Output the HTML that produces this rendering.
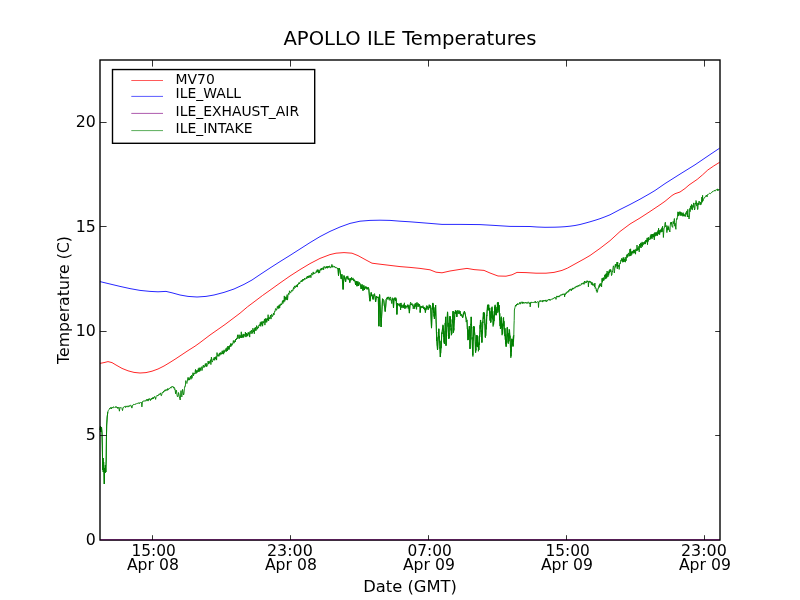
<!DOCTYPE html>
<html><head><meta charset="utf-8"><title>APOLLO ILE Temperatures</title>
<style>
html,body{margin:0;padding:0;background:#fff;}
body{width:800px;height:600px;overflow:hidden;}
svg{display:block;}
text{font-family:"DejaVu Sans","Liberation Sans",sans-serif;fill:#000;}
.t{font-size:16.67px;}
.l{font-size:13.9px;}
</style></head><body>
<svg width="800" height="600" viewBox="0 0 800 600">
<rect x="0" y="0" width="800" height="600" fill="#fff"/>
<g fill="none" stroke-width="0.85" stroke-linejoin="round">
<path d="M100,540 L720,540" stroke="#800080"/>
<path d="M100.0,363.4 L104.0,362.6 L108.0,361.6 L112.0,362.6 L116.0,365.0 L122.0,368.4 L128.0,370.8 L134.0,372.4 L140.0,373.0 L146.0,372.6 L152.0,371.2 L158.0,369.0 L164.0,366.0 L170.0,362.4 L176.0,358.6 L182.0,354.6 L188.0,350.6 L195.0,346.2 L200.0,342.6 L210.0,335.0 L225.0,324.5 L240.0,313.2 L247.5,306.8 L255.0,301.2 L262.5,295.5 L270.0,290.2 L280.0,283.0 L290.0,276.0 L300.0,269.6 L310.0,263.6 L320.0,258.4 L330.0,254.6 L336.0,253.2 L344.0,252.6 L352.0,253.2 L358.0,255.6 L366.0,260.0 L372.0,263.2 L380.0,264.2 L390.0,265.4 L400.0,266.6 L410.0,267.4 L420.0,268.4 L430.0,269.8 L436.0,272.2 L442.0,272.8 L450.0,271.0 L460.0,269.4 L467.0,268.4 L474.0,269.6 L484.0,270.4 L490.0,273.0 L498.0,276.0 L506.0,276.2 L512.0,274.8 L517.0,272.4 L526.0,272.6 L536.0,273.2 L546.0,273.2 L554.0,272.4 L562.0,270.4 L567.5,268.1 L580.0,261.2 L584.0,259.0 L590.0,255.5 L600.0,248.4 L610.0,240.7 L620.0,231.5 L630.0,224.0 L635.0,221.0 L640.0,218.0 L650.0,211.5 L660.0,204.8 L665.0,201.3 L672.0,195.5 L675.0,193.7 L680.0,192.0 L685.0,188.5 L689.0,185.0 L697.2,179.4 L702.5,174.9 L707.8,170.0 L713.8,165.9 L719.6,162.3" stroke="#ff0000"/>
<path d="M100.0,281.6 L110.0,284.0 L120.0,286.4 L130.0,288.6 L140.0,290.4 L150.0,291.4 L158.0,291.8 L166.0,291.4 L172.0,292.8 L180.0,295.0 L188.0,296.4 L197.0,297.0 L206.0,296.4 L214.0,295.0 L224.0,292.4 L234.0,289.0 L244.0,284.4 L252.0,280.0 L260.0,274.6 L270.0,268.0 L280.0,261.6 L290.0,255.4 L300.0,249.0 L310.0,242.6 L320.0,236.6 L330.0,231.4 L340.0,227.0 L350.0,223.4 L360.0,221.2 L370.0,220.4 L380.0,220.2 L390.0,220.4 L400.0,221.2 L410.0,221.8 L420.0,222.6 L430.0,223.4 L442.0,224.4 L460.0,224.4 L480.0,224.6 L494.0,225.4 L510.0,226.4 L530.0,226.5 L537.0,227.0 L545.0,227.3 L555.0,227.2 L560.0,227.0 L565.0,226.7 L570.0,226.2 L575.0,225.5 L580.0,224.5 L585.0,223.2 L590.0,221.8 L595.0,220.3 L600.0,218.7 L605.0,216.8 L610.0,214.8 L620.0,209.5 L630.0,204.5 L640.0,199.2 L650.0,193.5 L655.0,190.5 L665.0,183.6 L680.0,174.1 L695.0,164.8 L710.0,154.6 L719.6,148.2" stroke="#0000ff"/>
<path d="M100.0,430.0 L100.5,426.0 L101.0,432.0 L101.5,427.0 L102.0,433.0 L102.3,445.0 L102.5,457.0 L102.8,470.0 L103.0,458.0 L103.3,472.0 L103.6,462.0 L104.0,474.0 L104.3,484.0 L104.6,468.0 L105.0,473.0 L105.4,465.0 L105.8,472.0 L106.2,460.0 L106.4,440.0 L106.7,425.0 L107.2,417.0 L107.8,412.0" stroke="#008000" stroke-width="0.9"/>
<path d="M336.9,268.1 L338.0,268.5 L338.5,275.6 L339.0,268.0 L340.0,270.6 L341.2,278.8 L341.9,274.4 L343.1,289.4 L344.0,275.6 L345.6,281.9 L346.2,276.9 L348.8,278.1 L349.8,282.5 L350.5,278.5 L352.5,279.4 L355.0,280.6 L355.6,285.0 L356.3,281.0 L357.0,286.2 L357.8,281.5 L358.5,286.0 L359.2,282.5 L360.0,283.8 L361.2,289.0 L362.0,284.5 L363.0,290.6 L363.8,285.5 L364.4,290.0 L365.0,286.9 L368.8,288.8 L370.0,301.2 L371.2,292.5 L373.1,299.4 L374.0,294.5 L375.0,296.2 L375.6,301.9 L376.5,296.0 L377.5,297.5 L378.3,297.0 L378.9,326.2 L379.6,294.6 L381.1,326.9 L382.5,298.8 L383.8,300.6 L385.2,311.5 L386.2,299.4 L386.9,298.1 L388.8,297.5 L391.2,300.6 L393.0,299.0 L393.5,308.0 L394.0,298.5 L396.2,298.8 L396.9,314.4 L397.5,303.0 L398.8,305.0 L402.5,306.2 L406.2,306.9 L408.8,305.6 L409.4,313.1 L410.0,305.0 L411.2,303.8 L413.8,306.9 L417.5,304.4 L420.0,306.2 L420.2,312.5 L420.8,306.5 L422.5,307.5 L425.0,308.1 L425.4,312.5 L426.0,308.0 L428.8,307.5 L430.6,306.2 L431.5,328.1 L432.2,308.0 L433.1,303.8 L434.4,318.8 L435.6,305.0 L436.5,335.0 L437.5,350.0 L438.8,328.8 L440.4,356.9 L441.9,332.5 L443.1,325.6 L444.4,343.8 L445.6,316.9 L446.0,345.6 L447.5,311.9 L448.8,338.8 L450.0,316.2 L451.5,335.0 L453.1,311.2 L453.5,332.5 L455.0,311.9 L456.2,311.2 L456.8,316.9 L457.4,311.5 L458.8,311.9 L461.2,314.4 L462.5,317.5 L464.4,311.2 L465.6,316.2 L466.9,320.0 L468.1,340.0 L469.4,326.2 L470.0,348.8 L471.2,316.9 L472.8,355.0 L473.8,326.2 L475.0,335.0 L475.6,352.5 L476.9,335.0 L478.8,350.0 L480.6,320.0 L481.9,342.5 L483.1,317.5 L484.4,313.0 L485.4,337.5 L487.5,305.6 L489.4,308.8 L490.9,321.9 L491.9,307.5 L493.5,325.0 L495.0,305.6 L496.2,313.8 L498.1,303.1 L499.4,313.8 L500.6,327.5 L501.2,317.5 L502.5,333.8 L503.4,318.1 L504.4,328.8 L506.2,346.2 L507.2,327.5 L508.1,342.5 L509.4,330.0 L510.2,340.0 L511.0,356.2 L511.9,338.8 L513.1,346.2 L513.8,335.0" stroke="#008000" stroke-width="0.9"/>
<path d="M100.0,430.0 L100.5,426.0 L101.0,432.0 L101.5,427.0 L102.0,433.0 L102.3,445.0 L102.5,457.0 L102.8,470.0 L103.0,458.0 L103.3,472.0 L103.6,462.0 L104.0,474.0 L104.3,484.0 L104.6,468.0 L105.0,473.0 L105.4,465.0 L105.8,472.0 L106.2,460.0 L106.4,440.0 L106.7,425.0 L107.2,417.0 L107.8,412.0 L108.3,410.6 L108.8,409.8 L109.2,409.4 L109.7,408.2 L110.1,408.9 L110.6,407.5 L111.1,407.3 L111.5,408.9 L112.0,407.2 L112.5,407.5 L113.0,408.1 L113.5,406.8 L114.0,406.9 L114.5,407.4 L115.0,406.9 L115.5,406.7 L115.9,407.7 L116.4,406.6 L116.9,407.6 L117.3,407.0 L117.8,408.6 L118.3,407.0 L118.8,407.5 L119.4,411.2 L120.0,407.3 L120.6,407.9 L121.2,407.5 L121.9,408.4 L122.5,410.6 L123.2,407.2 L123.8,407.4 L124.4,406.5 L125.0,406.9 L125.5,407.5 L125.9,405.9 L126.4,407.1 L126.9,406.3 L127.3,406.7 L127.8,405.8 L128.3,407.1 L128.8,406.2 L129.2,405.5 L129.8,406.5 L130.2,405.2 L130.8,405.2 L131.2,405.6 L131.9,408.1 L132.5,405.4 L133.0,405.4 L133.5,404.4 L134.0,404.1 L134.5,405.0 L135.0,404.4 L135.5,404.0 L136.0,404.3 L136.5,403.6 L137.0,404.0 L137.5,403.5 L138.0,402.9 L138.5,403.4 L139.0,402.5 L139.5,403.6 L140.0,402.8 L140.5,402.3 L141.0,402.9 L141.5,402.4 L141.9,406.9 L142.4,402.0 L143.1,400.9 L143.8,401.2 L144.2,401.4 L144.7,400.6 L145.2,401.3 L145.7,400.4 L146.2,400.8 L146.6,399.4 L147.1,400.6 L147.6,399.3 L148.1,401.1 L148.6,398.8 L149.0,399.8 L149.5,398.6 L150.0,399.0 L150.4,400.6 L150.9,398.8 L151.4,399.5 L151.8,398.0 L152.3,399.1 L152.7,397.5 L153.2,399.0 L153.6,397.2 L154.1,397.7 L154.5,396.4 L155.0,396.9 L155.6,399.4 L156.2,396.5 L156.7,395.7 L157.2,396.1 L157.6,395.1 L158.1,395.8 L158.6,394.6 L159.1,393.9 L159.5,394.6 L160.0,393.8 L160.5,392.9 L161.0,395.6 L161.5,395.6 L162.2,392.8 L162.7,392.0 L163.1,392.7 L163.6,391.0 L164.1,391.7 L164.5,390.2 L165.0,390.6 L165.4,391.1 L165.9,389.5 L166.4,390.4 L166.8,389.5 L167.3,390.4 L167.7,388.5 L168.2,389.8 L168.6,389.6 L169.1,388.2 L169.6,388.6 L170.0,388.1 L170.5,387.2 L171.0,388.2 L171.5,386.6 L172.0,387.1 L172.5,386.5 L173.0,386.2 L173.5,388.1 L174.0,387.0 L174.5,389.4 L175.0,388.8 L175.6,393.8 L176.1,390.0 L176.5,390.6 L177.0,395.0 L177.5,396.9 L178.0,396.4 L178.5,392.5 L178.9,393.9 L179.4,396.9 L180.2,400.0 L181.0,390.6 L181.4,395.8 L181.9,396.9 L182.5,389.4 L183.0,391.4 L183.5,395.0 L183.9,394.0 L184.4,388.8 L184.9,386.1 L185.3,386.4 L185.8,380.6 L186.2,382.5 L186.9,383.5 L187.5,380.0 L188.0,377.4 L188.5,380.2 L189.0,377.7 L189.5,380.1 L190.0,378.1 L190.5,376.2 L191.0,379.3 L191.5,375.2 L192.0,378.3 L192.5,375.6 L193.0,372.7 L193.5,375.9 L194.0,373.1 L194.5,374.1 L195.0,372.5 L195.5,369.4 L195.9,373.8 L196.4,370.5 L196.9,373.0 L197.3,370.3 L197.8,371.9 L198.3,368.5 L198.8,371.9 L199.2,367.7 L199.7,371.4 L200.2,367.9 L200.6,370.5 L201.1,367.4 L201.6,366.7 L202.0,370.6 L202.5,368.0 L203.0,366.0 L203.4,365.1 L203.9,367.7 L204.4,365.8 L204.8,366.9 L205.3,363.7 L205.8,366.2 L206.2,363.2 L206.7,366.8 L207.2,365.2 L207.7,365.2 L208.1,361.1 L208.6,364.0 L209.1,361.2 L209.5,363.3 L210.0,362.0 L210.5,359.7 L210.9,364.6 L211.4,357.1 L211.9,361.2 L212.3,362.1 L212.8,360.5 L213.3,358.7 L213.8,360.1 L214.2,357.3 L214.7,360.3 L215.2,357.0 L215.6,359.1 L216.1,356.4 L216.6,360.1 L217.0,352.6 L217.5,356.0 L218.0,356.4 L218.4,354.6 L218.9,356.4 L219.4,353.1 L219.8,355.4 L220.3,352.5 L220.8,354.5 L221.2,352.7 L221.7,354.2 L222.2,350.8 L222.7,353.9 L223.1,350.8 L223.6,354.2 L224.1,349.8 L224.5,352.5 L225.0,350.8 L225.5,351.1 L225.9,348.5 L226.4,351.6 L226.9,347.6 L227.3,351.0 L227.8,346.1 L228.3,349.5 L228.8,346.1 L229.2,349.5 L229.7,345.5 L230.2,346.9 L230.6,343.5 L231.1,346.4 L231.6,343.7 L232.0,345.3 L232.5,344.0 L233.0,342.4 L233.4,340.5 L233.9,343.3 L234.3,342.9 L234.8,340.5 L235.3,342.0 L235.7,339.0 L236.2,340.0 L236.7,338.1 L237.1,338.9 L237.6,334.8 L238.0,338.6 L238.5,336.5 L239.0,334.7 L239.4,338.6 L239.9,335.1 L240.3,335.4 L240.8,338.0 L241.3,331.8 L241.7,338.0 L242.2,335.2 L242.7,337.5 L243.1,333.9 L243.6,337.5 L244.0,334.0 L244.5,335.8 L245.0,336.5 L245.4,332.1 L245.9,337.1 L246.4,333.1 L246.8,336.4 L247.3,333.7 L247.8,336.1 L248.2,332.3 L248.7,334.4 L249.2,332.4 L249.7,337.1 L250.1,331.0 L250.6,331.2 L251.1,333.9 L251.5,330.2 L252.0,332.0 L252.5,333.4 L252.9,328.2 L253.4,331.9 L253.8,329.8 L254.3,333.8 L254.8,327.8 L255.2,330.7 L255.7,327.3 L256.1,330.6 L256.6,325.6 L257.1,326.9 L257.5,329.2 L258.0,326.8 L258.5,327.8 L258.9,325.0 L259.4,324.6 L259.9,326.0 L260.3,322.4 L260.8,326.4 L261.2,321.7 L261.7,324.5 L262.1,321.6 L262.6,326.2 L263.1,321.2 L263.5,323.1 L264.0,321.5 L264.5,319.1 L264.9,325.1 L265.4,318.4 L265.9,322.6 L266.3,318.8 L266.8,322.2 L267.2,318.2 L267.7,320.3 L268.1,314.7 L268.6,320.9 L269.1,317.2 L269.5,319.0 L270.0,317.8 L270.5,315.1 L271.0,319.1 L271.5,314.4 L272.0,314.7 L272.5,316.6 L273.0,315.5 L273.5,313.0 L274.0,315.0 L274.5,311.4 L275.0,311.8 L275.5,308.7 L276.0,308.8 L276.5,310.3 L276.9,309.0 L277.4,306.4 L277.9,308.4 L278.3,305.8 L278.8,308.6 L279.2,304.9 L279.7,307.9 L280.1,304.3 L280.6,305.5 L281.1,303.5 L281.5,305.0 L282.0,303.5 L282.5,300.7 L282.9,303.6 L283.4,300.1 L283.9,302.2 L284.3,295.9 L284.8,301.3 L285.2,297.0 L285.7,299.7 L286.1,296.6 L286.6,299.7 L287.1,294.6 L287.5,300.1 L288.0,295.5 L288.5,293.2 L289.0,294.5 L289.5,290.8 L290.0,292.3 L290.5,293.1 L291.0,291.9 L291.5,290.3 L292.0,291.4 L292.5,289.8 L293.0,290.4 L293.5,287.5 L294.0,289.1 L294.5,285.9 L295.0,287.0 L295.4,287.6 L295.9,285.7 L296.4,286.8 L296.8,284.9 L297.3,287.1 L297.7,284.0 L298.2,284.6 L298.6,283.0 L299.1,282.4 L299.6,283.9 L300.0,282.6 L300.4,281.6 L300.9,280.8 L301.4,281.9 L301.8,280.2 L302.3,281.5 L302.7,279.2 L303.2,280.6 L303.6,279.0 L304.1,280.1 L304.6,278.0 L305.0,278.8 L305.4,279.1 L305.9,278.9 L306.4,277.4 L306.8,278.8 L307.3,276.0 L307.7,277.7 L308.2,276.0 L308.6,277.9 L309.1,275.5 L309.6,277.4 L310.0,275.7 L310.4,275.0 L310.9,277.7 L311.4,273.7 L311.8,273.2 L312.3,274.8 L312.7,275.1 L313.2,271.9 L313.6,274.1 L314.1,272.8 L314.6,273.6 L315.0,272.6 L315.4,272.9 L315.9,272.7 L316.4,270.7 L316.8,272.5 L317.3,269.6 L317.7,271.8 L318.2,269.7 L318.6,273.2 L319.1,270.2 L319.6,272.9 L320.0,270.1 L320.4,268.8 L320.9,270.4 L321.4,268.1 L321.8,269.9 L322.3,268.4 L322.7,269.2 L323.2,267.4 L323.6,269.8 L324.1,266.3 L324.6,266.8 L325.0,267.9 L325.4,268.4 L325.9,266.7 L326.4,268.0 L326.8,266.2 L327.3,268.3 L327.7,266.3 L328.2,267.6 L328.6,266.2 L329.1,267.6 L329.6,265.9 L330.0,266.2 L330.5,268.1 L330.9,267.6 L331.4,267.0 L331.9,264.4 L332.3,267.3 L332.8,265.7 L333.3,267.2 L333.8,266.6 L334.3,266.1 L334.8,267.4 L335.3,266.9 L335.9,268.1 L336.4,267.5 L336.9,268.1 L337.4,268.7 L338.0,268.5 L338.5,275.6 L339.0,268.0 L339.5,268.5 L340.0,270.6 L340.6,275.6 L341.2,278.8 L341.9,274.4 L342.5,280.1 L343.1,289.4 L344.0,275.6 L344.5,278.5 L345.1,278.5 L345.6,281.9 L346.2,276.9 L346.8,276.6 L347.2,278.9 L347.8,275.9 L348.2,279.9 L348.8,278.1 L349.2,278.5 L349.8,282.5 L350.5,278.5 L351.0,280.4 L351.5,277.3 L352.0,280.0 L352.5,279.4 L353.0,277.9 L353.5,281.1 L354.0,279.4 L354.5,281.0 L355.0,280.6 L355.6,285.0 L356.3,281.0 L357.0,286.2 L357.8,281.5 L358.5,286.0 L359.2,282.5 L360.0,283.8 L360.6,285.6 L361.2,289.0 L362.0,284.5 L362.5,288.9 L363.0,290.6 L363.8,285.5 L364.4,290.0 L365.0,286.9 L365.5,286.7 L365.9,288.7 L366.4,286.7 L366.9,289.4 L367.3,287.5 L367.8,289.3 L368.3,287.2 L368.8,288.8 L369.4,297.9 L370.0,301.2 L370.6,296.0 L371.2,292.5 L371.7,296.0 L372.2,294.7 L372.6,298.7 L373.1,299.4 L374.0,294.5 L374.5,293.6 L375.0,296.2 L375.6,301.9 L376.5,296.0 L377.0,297.5 L377.5,297.5 L378.3,297.0 L378.9,326.2 L379.6,294.6 L380.1,304.6 L380.6,318.6 L381.1,326.9 L381.6,316.5 L382.0,309.2 L382.5,298.8 L383.1,299.2 L383.8,300.6 L384.2,305.6 L384.8,307.3 L385.2,311.5 L385.8,306.4 L386.2,299.4 L386.9,298.1 L387.4,297.0 L387.8,299.5 L388.3,296.8 L388.8,297.5 L389.2,300.3 L389.8,299.8 L390.2,296.9 L390.8,298.4 L391.2,300.6 L391.8,303.6 L392.4,297.7 L393.0,299.0 L393.5,308.0 L394.0,298.5 L394.4,299.5 L394.9,297.5 L395.4,300.9 L395.8,297.7 L396.2,298.8 L396.9,314.4 L397.5,303.0 L398.1,305.4 L398.8,305.0 L399.2,303.8 L399.7,306.4 L400.2,303.1 L400.6,310.0 L401.1,302.9 L401.6,307.7 L402.0,304.9 L402.5,306.2 L403.0,308.1 L403.4,304.5 L403.9,308.0 L404.4,302.8 L404.8,308.8 L405.3,305.2 L405.8,308.4 L406.2,306.9 L406.8,305.7 L407.2,307.2 L407.8,304.5 L408.2,308.6 L408.8,305.6 L409.4,313.1 L410.0,305.0 L410.6,302.2 L411.2,303.8 L411.8,305.1 L412.2,303.6 L412.8,304.7 L413.2,308.9 L413.8,306.9 L414.2,304.4 L414.7,308.8 L415.2,303.4 L415.6,306.6 L416.1,302.9 L416.6,309.4 L417.0,302.3 L417.5,304.4 L418.0,307.0 L418.5,303.5 L419.0,306.6 L419.5,304.2 L420.0,306.2 L420.2,312.5 L420.8,306.5 L421.4,307.6 L421.9,306.2 L422.5,307.5 L423.0,305.6 L423.5,308.7 L424.0,307.0 L424.5,309.9 L425.0,308.1 L425.4,312.5 L426.0,308.0 L426.5,305.6 L426.9,309.6 L427.4,306.9 L427.8,305.8 L428.3,309.8 L428.8,307.5 L429.2,304.6 L429.7,308.2 L430.1,305.1 L430.6,306.2 L431.5,328.1 L431.7,324.6 L432.0,309.8 L432.2,308.0 L432.4,309.5 L432.6,303.3 L432.7,306.5 L432.9,302.9 L433.1,303.8 L433.3,308.4 L433.5,306.6 L433.7,313.1 L433.8,307.0 L434.0,316.5 L434.2,313.9 L434.4,318.8 L434.6,318.1 L434.8,311.7 L435.0,315.7 L435.2,308.1 L435.4,314.4 L435.6,305.0 L435.8,310.3 L436.1,321.0 L436.3,324.8 L436.5,335.0 L436.7,340.9 L436.9,337.2 L437.1,345.8 L437.3,345.9 L437.5,350.0 L437.7,348.7 L437.9,341.7 L438.1,340.4 L438.3,332.0 L438.5,333.9 L438.8,328.8 L438.9,329.4 L439.1,338.4 L439.3,336.2 L439.5,342.4 L439.7,341.0 L439.9,348.5 L440.0,347.4 L440.2,357.0 L440.4,356.9 L440.6,352.2 L440.8,352.5 L441.0,341.1 L441.1,348.2 L441.3,339.9 L441.5,340.9 L441.7,333.0 L441.9,332.5 L442.1,334.0 L442.3,331.9 L442.5,328.0 L442.7,329.6 L442.9,324.8 L443.1,325.6 L443.3,330.2 L443.5,328.8 L443.7,337.1 L443.8,332.9 L444.0,342.5 L444.2,337.6 L444.4,343.8 L444.6,342.9 L444.8,331.6 L445.0,332.2 L445.2,323.0 L445.4,325.9 L445.6,316.9 L445.8,323.9 L446.0,345.6 L446.2,342.8 L446.4,330.7 L446.6,336.1 L446.8,327.6 L446.9,326.6 L447.1,316.9 L447.3,317.3 L447.5,311.9 L447.7,312.6 L447.9,319.5 L448.1,326.7 L448.3,322.9 L448.5,337.8 L448.8,338.8 L449.0,333.1 L449.2,338.0 L449.4,325.5 L449.6,324.8 L449.8,318.1 L450.0,316.2 L450.2,320.7 L450.4,317.1 L450.6,326.8 L450.8,324.5 L450.9,330.3 L451.1,328.3 L451.3,335.3 L451.5,335.0 L451.7,328.4 L451.9,333.7 L452.1,319.4 L452.3,322.1 L452.5,322.6 L452.7,315.6 L452.9,316.3 L453.1,311.2 L453.3,320.1 L453.5,332.5 L453.7,328.1 L453.9,330.4 L454.1,323.4 L454.2,323.4 L454.4,316.5 L454.6,319.9 L454.8,312.3 L455.0,311.9 L455.2,313.4 L455.4,310.4 L455.6,313.4 L455.8,310.4 L456.0,313.4 L456.2,311.2 L456.8,316.9 L457.4,311.5 L457.9,310.1 L458.3,313.9 L458.8,311.9 L459.2,310.5 L459.8,314.2 L460.2,311.1 L460.8,316.0 L461.2,314.4 L461.9,314.4 L462.5,317.5 L463.0,317.7 L463.4,312.8 L463.9,313.9 L464.4,311.2 L465.0,312.5 L465.6,316.2 L466.2,322.1 L466.9,320.0 L467.1,321.7 L467.3,328.9 L467.5,328.3 L467.7,335.1 L467.9,340.2 L468.1,340.0 L468.3,333.7 L468.5,338.5 L468.7,337.9 L468.8,329.6 L469.0,333.5 L469.2,326.4 L469.4,326.2 L469.6,335.0 L469.8,337.5 L470.0,348.8 L470.2,346.3 L470.4,335.4 L470.6,336.0 L470.8,323.9 L471.0,324.8 L471.2,316.9 L471.4,318.0 L471.6,328.3 L471.8,327.1 L472.0,339.4 L472.2,337.3 L472.4,348.1 L472.6,347.0 L472.8,355.0 L472.9,356.5 L473.1,340.2 L473.4,340.3 L473.6,328.8 L473.8,326.2 L474.0,331.1 L474.2,330.9 L474.4,326.9 L474.6,334.9 L474.8,334.8 L475.0,335.0 L475.2,339.2 L475.4,351.0 L475.6,352.5 L475.8,348.5 L476.0,350.4 L476.2,342.1 L476.3,346.4 L476.5,337.5 L476.7,335.7 L476.9,335.0 L477.1,338.9 L477.3,336.5 L477.4,337.2 L477.6,347.1 L477.8,336.3 L478.0,346.3 L478.2,343.6 L478.4,351.3 L478.6,346.6 L478.8,350.0 L478.9,349.4 L479.1,342.4 L479.3,344.9 L479.5,335.3 L479.7,336.9 L479.9,334.3 L480.1,325.1 L480.2,328.7 L480.4,320.0 L480.6,320.0 L480.8,327.1 L481.0,322.4 L481.2,332.0 L481.3,330.3 L481.5,337.2 L481.7,337.2 L481.9,342.5 L482.1,340.5 L482.3,331.6 L482.5,333.4 L482.7,321.6 L482.9,323.0 L483.1,317.5 L483.3,312.7 L483.5,317.8 L483.7,312.3 L483.8,319.0 L484.0,312.3 L484.2,315.2 L484.4,313.0 L484.6,314.1 L484.8,324.4 L485.0,323.9 L485.2,336.7 L485.4,337.5 L485.6,330.8 L485.8,335.8 L486.0,324.8 L486.2,329.4 L486.4,319.4 L486.6,324.2 L486.7,315.2 L486.9,315.9 L487.1,310.1 L487.3,310.1 L487.5,305.6 L487.7,304.8 L487.9,310.2 L488.1,304.8 L488.3,310.2 L488.4,304.8 L488.6,310.2 L488.8,304.8 L489.0,310.2 L489.2,310.2 L489.4,308.8 L489.6,313.2 L489.8,307.9 L490.0,320.7 L490.1,311.3 L490.3,319.7 L490.5,314.9 L490.7,322.9 L490.9,321.9 L491.1,316.0 L491.3,318.2 L491.5,310.8 L491.7,312.4 L491.9,307.5 L492.1,306.7 L492.3,315.7 L492.5,311.9 L492.7,319.4 L492.9,314.7 L493.1,326.5 L493.3,321.5 L493.5,325.0 L493.7,323.7 L493.9,315.9 L494.1,321.1 L494.2,311.1 L494.4,316.1 L494.6,307.0 L494.8,311.4 L495.0,305.6 L495.2,304.8 L495.4,312.0 L495.6,307.9 L495.8,315.2 L496.0,310.0 L496.2,313.8 L496.4,315.2 L496.6,309.6 L496.8,313.1 L497.0,306.9 L497.2,312.7 L497.4,302.7 L497.6,310.1 L497.7,302.3 L497.9,305.3 L498.1,303.1 L498.3,302.3 L498.5,302.3 L498.7,310.2 L498.8,305.9 L499.0,312.3 L499.2,305.0 L499.4,313.8 L499.6,320.4 L499.8,313.3 L500.0,326.1 L500.2,321.2 L500.4,329.0 L500.6,327.5 L500.8,320.6 L501.0,328.2 L501.2,317.5 L501.5,316.7 L501.7,327.3 L501.9,324.5 L502.1,335.2 L502.3,323.6 L502.5,333.8 L502.7,333.9 L502.9,324.6 L503.2,325.1 L503.4,318.1 L503.6,317.3 L503.8,326.2 L504.0,321.2 L504.2,329.2 L504.4,328.8 L504.6,327.9 L504.8,328.5 L504.9,336.1 L505.1,328.4 L505.3,339.8 L505.5,334.8 L505.7,344.1 L505.9,340.2 L506.1,346.9 L506.2,346.2 L506.4,339.3 L506.6,342.6 L506.9,333.9 L507.1,333.8 L507.2,327.5 L507.5,327.4 L507.7,336.3 L507.9,334.9 L508.1,342.5 L508.3,343.8 L508.5,334.9 L508.7,340.6 L508.8,333.1 L509.0,341.3 L509.2,329.2 L509.4,330.0 L509.6,330.6 L509.8,338.4 L510.0,335.7 L510.2,340.0 L510.4,347.7 L510.6,345.4 L510.8,357.8 L511.0,356.2 L511.2,348.8 L511.4,351.6 L511.7,340.4 L511.9,338.8 L512.1,341.8 L512.3,339.5 L512.5,344.9 L512.7,341.3 L512.9,346.6 L513.1,346.2 L513.3,336.5 L513.5,342.0 L513.8,335.0 L514.0,325.0 L514.2,320.6 L514.4,310.0 L515.0,307.3 L515.6,305.0 L516.1,306.2 L516.6,304.0 L517.2,305.0 L517.7,303.4 L518.2,304.6 L518.8,303.8 L519.2,303.9 L519.8,302.3 L520.2,304.2 L520.8,302.3 L521.2,302.5 L521.7,301.8 L522.2,303.7 L522.7,301.9 L523.1,303.3 L523.6,302.1 L524.1,303.4 L524.5,302.7 L525.0,303.1 L525.5,302.2 L525.9,303.2 L526.4,302.5 L526.9,303.5 L527.3,302.5 L527.8,303.3 L528.3,301.8 L528.8,302.5 L529.4,303.9 L530.0,302.6 L530.2,306.9 L530.6,302.5 L531.1,303.1 L531.6,301.9 L532.2,302.6 L532.7,302.0 L533.2,302.8 L533.8,302.2 L534.3,301.9 L534.8,302.7 L535.3,301.1 L535.9,303.0 L536.4,302.7 L536.9,301.9 L537.5,301.7 L538.2,302.0 L538.5,307.5 L538.9,301.5 L539.4,301.7 L539.8,300.6 L540.3,301.7 L540.8,300.4 L541.2,301.0 L541.7,301.5 L542.2,300.6 L542.6,302.1 L543.1,300.1 L543.5,301.3 L544.0,300.4 L544.4,301.1 L544.9,300.2 L545.3,301.4 L545.8,299.9 L546.2,300.6 L546.7,301.8 L547.2,299.9 L547.7,300.6 L548.2,299.7 L548.6,299.2 L549.1,300.1 L549.6,299.0 L550.1,300.6 L550.6,299.7 L551.1,299.0 L551.5,299.4 L552.0,298.6 L552.5,299.0 L553.0,299.2 L553.5,298.2 L554.0,298.5 L554.6,297.3 L555.1,298.1 L555.6,297.5 L556.0,299.4 L556.4,297.3 L556.9,295.9 L557.3,297.2 L557.8,296.1 L558.2,297.1 L558.6,295.9 L559.1,297.1 L559.5,295.6 L560.0,295.6 L560.5,295.8 L561.0,294.5 L561.5,295.3 L562.0,294.4 L562.4,295.1 L562.9,293.8 L563.4,294.6 L563.9,293.6 L564.4,294.0 L564.6,296.9 L565.0,293.8 L565.5,294.5 L565.9,292.8 L566.4,293.5 L566.8,291.9 L567.3,292.5 L567.7,291.4 L568.2,292.2 L568.6,290.4 L569.1,291.3 L569.5,289.3 L570.0,290.0 L570.5,290.1 L570.9,288.8 L571.4,290.8 L571.8,288.9 L572.3,289.5 L572.7,287.9 L573.2,289.2 L573.6,287.9 L574.1,288.5 L574.5,287.3 L575.0,287.5 L575.5,287.8 L575.9,286.4 L576.4,287.1 L576.8,285.9 L577.3,287.1 L577.7,286.6 L578.2,285.1 L578.6,286.2 L579.1,286.2 L579.5,284.8 L580.0,285.0 L580.5,285.3 L580.9,285.3 L581.4,283.5 L581.8,284.4 L582.3,283.0 L582.7,283.2 L583.2,284.1 L583.6,282.6 L584.1,284.3 L584.5,281.0 L585.0,282.5 L585.5,283.1 L586.0,281.3 L586.5,282.7 L587.1,280.6 L587.6,281.9 L588.1,281.2 L588.4,286.9 L588.8,281.5 L589.2,280.9 L589.7,282.4 L590.1,281.1 L590.6,282.5 L591.0,281.9 L591.4,284.6 L591.8,282.1 L592.2,282.5 L592.6,285.3 L593.0,283.6 L593.4,285.4 L593.8,285.0 L594.1,284.4 L594.5,286.9 L594.9,283.0 L595.2,288.4 L595.6,287.5 L596.0,287.9 L596.4,291.2 L596.7,289.8 L597.1,292.5 L597.5,291.9 L597.9,288.5 L598.3,288.9 L598.8,286.2 L599.1,285.4 L599.5,287.3 L599.8,283.8 L600.2,286.1 L600.5,285.8 L600.9,283.1 L601.2,283.8 L601.6,286.9 L602.0,278.3 L602.4,282.3 L602.8,277.9 L603.2,280.9 L603.6,277.6 L604.0,280.3 L604.4,277.5 L604.8,274.8 L605.2,279.1 L605.6,274.3 L606.0,278.6 L606.3,273.3 L606.7,278.1 L607.1,271.0 L607.5,275.0 L607.9,277.0 L608.3,272.0 L608.7,275.4 L609.0,270.7 L609.4,273.2 L609.8,269.5 L610.2,272.0 L610.6,269.4 L611.0,269.9 L611.5,275.6 L611.9,275.0 L612.3,271.0 L612.6,271.7 L613.0,268.0 L613.4,265.8 L613.8,267.5 L614.3,273.0 L614.6,270.4 L615.0,266.0 L615.4,264.1 L615.8,267.4 L616.2,264.4 L616.6,265.6 L617.0,262.0 L617.3,268.9 L617.7,262.1 L618.0,266.7 L618.4,266.7 L618.8,265.0 L619.2,269.4 L619.6,264.1 L620.0,263.0 L620.4,263.6 L620.8,260.0 L621.2,260.6 L621.6,258.4 L622.0,261.4 L622.4,258.9 L622.8,262.3 L623.1,257.6 L623.5,261.9 L623.9,257.4 L624.2,261.9 L624.6,259.0 L625.0,260.0 L625.4,262.2 L625.8,257.1 L626.1,260.9 L626.5,255.3 L626.9,254.6 L627.2,257.7 L627.6,254.3 L628.0,256.6 L628.4,252.9 L628.8,254.4 L629.1,255.7 L629.5,256.2 L629.9,249.2 L630.2,256.0 L630.6,248.8 L631.0,255.7 L631.4,251.7 L631.8,254.6 L632.1,251.4 L632.5,253.1 L632.9,250.9 L633.2,253.4 L633.6,249.9 L634.0,252.8 L634.4,249.8 L634.8,253.2 L635.1,250.1 L635.5,254.2 L635.9,248.9 L636.2,250.0 L636.6,250.9 L637.0,245.0 L637.4,250.5 L637.8,247.7 L638.1,250.1 L638.5,249.4 L638.9,246.2 L639.2,251.9 L639.6,244.0 L640.0,246.2 L640.4,247.3 L640.7,242.9 L641.1,248.0 L641.4,243.5 L641.8,245.9 L642.1,241.9 L642.5,246.5 L642.9,242.8 L643.2,244.6 L643.6,244.5 L643.9,242.0 L644.3,244.1 L644.6,241.5 L645.0,242.0 L645.4,244.1 L645.7,240.1 L646.1,242.3 L646.4,239.9 L646.8,241.8 L647.1,237.9 L647.5,244.7 L647.9,237.8 L648.2,241.5 L648.6,237.3 L648.9,240.0 L649.3,239.3 L649.6,239.6 L650.0,237.5 L650.4,235.6 L650.7,239.3 L651.1,234.3 L651.4,238.1 L651.8,234.4 L652.1,238.8 L652.5,234.2 L652.9,237.1 L653.2,234.1 L653.6,237.2 L653.9,233.6 L654.3,239.9 L654.6,232.6 L655.0,234.5 L655.4,236.2 L655.7,232.4 L656.1,234.8 L656.4,232.6 L656.8,235.8 L657.1,231.9 L657.5,235.6 L657.9,230.6 L658.2,234.2 L658.6,228.2 L658.9,234.1 L659.3,230.2 L659.6,234.7 L660.0,232.0 L660.4,229.9 L660.8,232.4 L661.1,229.2 L661.5,231.7 L661.9,227.7 L662.2,231.9 L662.6,226.2 L663.0,230.0 L663.4,237.5 L664.0,228.0 L664.5,227.8 L665.0,223.0 L665.4,222.2 L665.8,227.0 L666.1,225.4 L666.5,228.0 L666.9,232.6 L667.2,227.6 L667.6,230.3 L667.9,225.7 L668.3,229.8 L668.6,226.8 L669.0,229.0 L669.5,231.0 L669.9,232.0 L670.2,226.0 L670.6,222.4 L671.1,224.2 L671.5,222.0 L671.9,226.0 L672.3,227.0 L672.7,227.4 L673.1,221.5 L673.6,223.7 L674.0,220.5 L674.4,218.5 L674.8,226.2 L675.1,223.2 L675.5,227.0 L675.9,229.3 L676.3,220.9 L676.7,218.5 L677.1,219.3 L677.5,216.0 L677.9,211.8 L678.3,216.1 L678.7,212.2 L679.1,214.7 L679.5,213.0 L679.9,211.5 L680.2,215.8 L680.6,212.2 L680.9,214.5 L681.3,212.4 L681.6,215.6 L682.0,214.0 L682.4,213.3 L682.8,216.3 L683.1,212.6 L683.5,215.9 L683.9,213.9 L684.2,216.3 L684.6,214.7 L685.0,216.0 L685.4,216.5 L685.8,212.7 L686.2,214.4 L686.6,211.2 L687.0,211.0 L687.4,217.0 L687.8,209.3 L688.2,216.7 L688.6,215.9 L689.0,219.0 L689.4,217.5 L689.8,208.4 L690.1,211.7 L690.5,206.0 L690.9,205.9 L691.2,208.9 L691.6,204.4 L692.0,210.0 L692.4,209.8 L692.8,205.3 L693.2,207.4 L693.6,202.9 L694.0,204.0 L694.5,210.0 L694.9,208.9 L695.2,203.0 L695.6,204.2 L696.0,200.5 L696.4,201.4 L696.8,206.1 L697.1,203.2 L697.5,209.5 L697.9,209.4 L698.2,202.8 L698.6,204.8 L699.0,201.0 L699.5,201.8 L700.0,205.0 L700.4,204.8 L700.8,202.0 L701.1,204.5 L701.5,201.0 L701.9,197.0 L702.2,202.3 L702.6,195.3 L702.9,201.1 L703.3,198.9 L703.6,199.1 L704.0,198.5 L704.5,197.5 L705.0,197.5 L705.5,196.2 L706.0,196.0 L706.5,195.0 L707.0,197.0 L707.5,194.6 L708.0,194.2 L708.5,194.3 L709.0,193.7 L709.5,193.3 L710.0,193.5 L710.5,193.6 L711.0,193.2 L711.5,192.4 L712.0,192.5 L712.5,191.5 L713.0,191.5 L713.5,191.0 L714.0,191.2 L714.5,190.3 L715.0,191.2 L715.5,190.1 L716.0,190.0 L716.5,189.9 L717.0,189.1 L717.5,189.0 L717.9,191.0 L718.3,189.0 L718.9,189.6 L719.5,189.5" stroke="#008000" stroke-width="0.9"/>
</g>
<rect x="100" y="60" width="620" height="480" fill="none" stroke="#000" stroke-width="1.39"/>
<line x1="100.7" y1="539.55" x2="719.3" y2="539.55" stroke="#800080" stroke-width="0.9" opacity="0.42"/>
<g stroke="#000" stroke-width="0.8">
<line x1="152.5" y1="540" x2="152.5" y2="535.2"/><line x1="152.5" y1="60" x2="152.5" y2="66.6"/>
<line x1="290.5" y1="540" x2="290.5" y2="535.2"/><line x1="290.5" y1="60" x2="290.5" y2="66.6"/>
<line x1="428.5" y1="540" x2="428.5" y2="535.2"/><line x1="428.5" y1="60" x2="428.5" y2="66.6"/>
<line x1="566.5" y1="540" x2="566.5" y2="535.2"/><line x1="566.5" y1="60" x2="566.5" y2="66.6"/>
<line x1="704.5" y1="540" x2="704.5" y2="535.2"/><line x1="704.5" y1="60" x2="704.5" y2="66.6"/>
<line x1="100" y1="435.5" x2="106.6" y2="435.5"/><line x1="720" y1="435.5" x2="715.2" y2="435.5"/>
<line x1="100" y1="331.5" x2="106.6" y2="331.5"/><line x1="720" y1="331.5" x2="715.2" y2="331.5"/>
<line x1="100" y1="226.5" x2="106.6" y2="226.5"/><line x1="720" y1="226.5" x2="715.2" y2="226.5"/>
<line x1="100" y1="122.5" x2="106.6" y2="122.5"/><line x1="720" y1="122.5" x2="715.2" y2="122.5"/>
</g>
<g transform="translate(95.8,544.5) scale(0.95,1)"><text class="t" text-anchor="end">0</text></g>
<g transform="translate(95.8,440.2) scale(0.95,1)"><text class="t" text-anchor="end">5</text></g>
<g transform="translate(95.8,335.8) scale(0.95,1)"><text class="t" text-anchor="end">10</text></g>
<g transform="translate(95.8,231.5) scale(0.95,1)"><text class="t" text-anchor="end">15</text></g>
<g transform="translate(95.8,127.1) scale(0.95,1)"><text class="t" text-anchor="end">20</text></g>
<g transform="translate(153.6,555.6) scale(0.925,1)"><text class="t" text-anchor="middle">15:00</text></g>
<g transform="translate(152.9,570) scale(0.94,1)"><text class="t" text-anchor="middle">Apr 08</text></g>
<g transform="translate(289.9,555.6) scale(0.955,1)"><text class="t" text-anchor="middle">23:00</text></g>
<g transform="translate(290.9,570) scale(0.94,1)"><text class="t" text-anchor="middle">Apr 08</text></g>
<g transform="translate(429.6,555.6) scale(0.925,1)"><text class="t" text-anchor="middle">07:00</text></g>
<g transform="translate(428.9,570) scale(0.94,1)"><text class="t" text-anchor="middle">Apr 09</text></g>
<g transform="translate(567.6,555.6) scale(0.925,1)"><text class="t" text-anchor="middle">15:00</text></g>
<g transform="translate(566.9,570) scale(0.94,1)"><text class="t" text-anchor="middle">Apr 09</text></g>
<g transform="translate(703.9,555.6) scale(0.955,1)"><text class="t" text-anchor="middle">23:00</text></g>
<g transform="translate(704.9,570) scale(0.94,1)"><text class="t" text-anchor="middle">Apr 09</text></g>
<g transform="translate(410.1,591.7) scale(0.98,1)"><text class="t" text-anchor="middle">Date (GMT)</text></g>
<g transform="translate(69.4,300) rotate(-90) scale(0.945,1)"><text class="t" text-anchor="middle">Temperature (C)</text></g>
<text x="410" y="45.2" text-anchor="middle" style="font-size:19.6px">APOLLO ILE Temperatures</text>
<rect x="112.5" y="69.55" width="202.2" height="73.75" fill="#fff" stroke="#000" stroke-width="1.39"/>
<line x1="131.3" y1="80.5" x2="163" y2="80.5" stroke="#ff0000" stroke-width="0.65"/><text class="l" x="175.6" y="83.5">MV70</text>
<line x1="131.3" y1="96.4" x2="163" y2="96.4" stroke="#0000ff" stroke-width="0.65"/><text class="l" x="175.6" y="97.7">ILE_WALL</text>
<line x1="131.3" y1="113.4" x2="163" y2="113.4" stroke="#800080" stroke-width="0.65"/><text class="l" x="175.6" y="115.7">ILE_EXHAUST_AIR</text>
<line x1="131.3" y1="130.6" x2="163" y2="130.6" stroke="#008000" stroke-width="0.65"/><text class="l" x="175.6" y="132.5">ILE_INTAKE</text>
</svg></body></html>
